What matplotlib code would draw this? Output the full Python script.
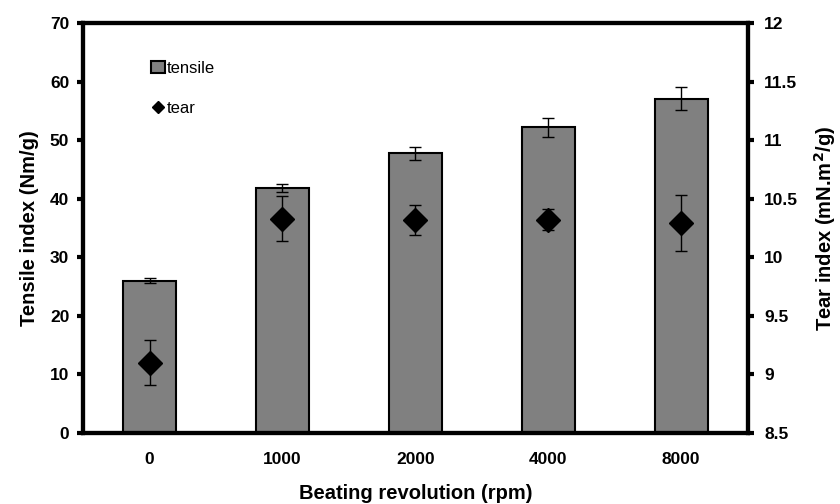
import numpy as np
import matplotlib as mpl
mpl.use('Agg')
from matplotlib import pyplot as plt
from matplotlib.lines import Line2D
from matplotlib.patches import Patch

revolutions = ['0', '1000', '2000', '4000', '8000']
tensile = [26.0, 41.8, 47.8, 52.2, 57.1]
tensile_err = [0.4, 0.7, 1.1, 1.6, 2.0]
tear = [9.10, 10.33, 10.32, 10.32, 10.29]
tear_err = [0.19, 0.19, 0.13, 0.09, 0.24]

plt.rcParams['font.family'] = ['Liberation Sans', 'DejaVu Sans']

fig = plt.figure(figsize=(8.4, 5.04), dpi=100)
ax1 = fig.add_axes([0.099, 0.141, 0.791, 0.813])
x = np.arange(len(revolutions))

ax1.bar(x, tensile, width=0.4, color='#808080', edgecolor='black', linewidth=1.5, zorder=2)
ax1.errorbar(x, tensile, yerr=tensile_err, fmt='none', ecolor='black',
             elinewidth=1, capsize=4, capthick=1, zorder=3)
ax1.set_xlim(-0.5, 4.5)
ax1.set_ylim(0, 70)
ax1.set_yticks(np.arange(0, 71, 10))
ax1.set_xticks(x)
ax1.set_xticklabels(revolutions)
ax1.tick_params(axis='x', length=0, pad=14)
ax1.tick_params(axis='y', direction='out', length=4, width=3, pad=6)
for lab in ax1.get_xticklabels() + ax1.get_yticklabels():
    lab.set_fontweight('bold')
    lab.set_fontsize(12.5)
ax1.set_xlabel('Beating revolution (rpm)', fontsize=14.5, fontweight='bold', labelpad=12)
ax1.set_ylabel('Tensile index (Nm/g)', fontsize=14.5, fontweight='bold', labelpad=8)
for s in ax1.spines.values():
    s.set_linewidth(3)

ax2 = ax1.twinx()
ax2.errorbar(x, tear, yerr=tear_err, fmt='D', color='black', markersize=12,
             ecolor='black', elinewidth=1, capsize=4, capthick=1, zorder=4)
ax2.set_ylim(8.5, 12)
ax2.set_yticks(np.arange(8.5, 12.01, 0.5))
ax2.set_yticklabels(['8.5', '9', '9.5', '10', '10.5', '11', '11.5', '12'])
ax2.tick_params(axis='y', direction='out', length=4, width=3, pad=8)
for lab in ax2.get_yticklabels():
    lab.set_fontweight('bold')
    lab.set_fontsize(12.5)
ax2.set_ylabel('Tear index (mN.m$^\\mathbf{2}$/g)', fontsize=14.5, fontweight='bold', labelpad=10)
for s in ax2.spines.values():
    s.set_linewidth(3)

handles = [Patch(facecolor='#808080', edgecolor='black', linewidth=1.5, label='tensile'),
           Line2D([], [], marker='D', color='black', linestyle='none', markersize=6, label='tear')]
ax1.legend(handles=handles, loc='upper left', bbox_to_anchor=(0.08, 0.945), frameon=False,
           fontsize=12, handlelength=0.8, handleheight=0.8, handletextpad=0.15,
           labelspacing=1.5)

plt.savefig('out.png', dpi=100)
